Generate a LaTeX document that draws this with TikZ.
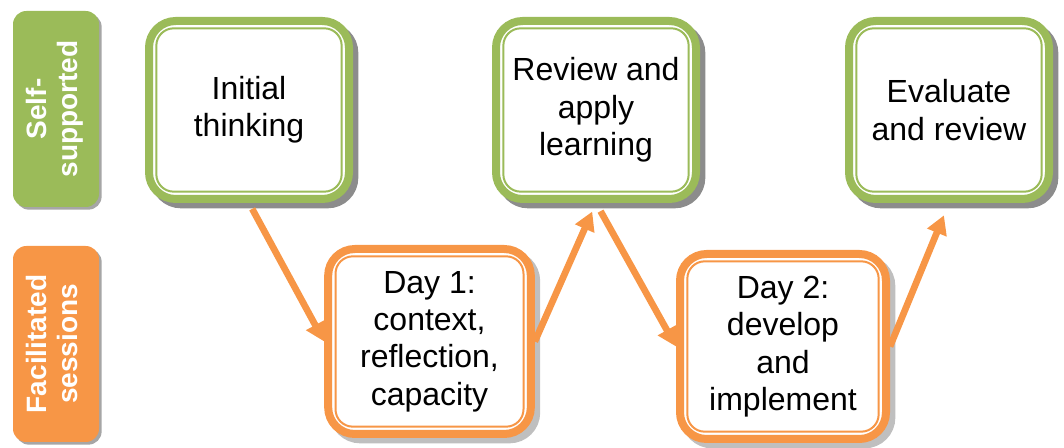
\documentclass[tikz,border=0pt]{standalone}
\usepackage{fontspec}
\setmainfont{Liberation Sans}
\usetikzlibrary{arrows.meta,shadows}
\definecolor{leafgreen}{HTML}{9BBB59}
\definecolor{sessionorange}{HTML}{F79646}

\begin{document}
\begin{tikzpicture}[x=0.75pt,y=-0.75pt,
    sidebox/.style={rounded corners=10pt, minimum width=64.5pt, minimum height=147pt,
        inner sep=0pt, text=white, font=\bfseries\fontsize{21}{23}\selectfont,
        drop shadow={shadow xshift=2pt, shadow yshift=-2pt, fill=black!35, opacity=1}},
    stagebox/.style={line width=6pt, fill=white, rounded corners=20pt, align=center,
        font=\fontsize{24}{28}\selectfont},
    selfbox/.style={stagebox, draw=leafgreen, minimum width=150pt, minimum height=133.5pt,
        drop shadow={shadow xshift=4pt, shadow yshift=-4pt, fill=black!45, draw=black!45,
        line width=6pt, opacity=1}},
    dayboxstyle/.style={stagebox, draw=sessionorange, minimum height=138.75pt,
        drop shadow={shadow xshift=4pt, shadow yshift=-4pt, fill=black!25, draw=black!25,
        line width=6pt, opacity=1}},
    innerline/.style={line width=1.5pt, rounded corners=13pt},
    flow/.style={sessionorange, line width=5pt, -{Triangle[length=14pt,width=15pt]}}]

\useasboundingbox (0,0) rectangle (1064,448);

% row labels
\node (selfsup) [sidebox, fill=leafgreen] at (56,109)
    {\rotatebox{90}{\begin{tabular}{@{}c@{}}Self-\\supported\end{tabular}}};
\node (facil) [sidebox, fill=sessionorange] at (56,344)
    {\rotatebox{90}{\begin{tabular}{@{}c@{}}Facilitated\\sessions\end{tabular}}};

% self-supported stages
\node (init) [selfbox] at (249,110) {Initial\\thinking};
\node (review) [selfbox] at (596,110) {Review and\\apply\\learning};
\node (evalrev) [selfbox] at (949,110) {Evaluate\\and review};

% facilitated sessions
\node (day1) [dayboxstyle, minimum width=152pt] at (429.5,341.5) {Day 1:\\context,\\reflection,\\capacity};
\node (day2) [dayboxstyle, minimum width=154.5pt] at (783,346.5) {Day 2:\\develop\\and\\implement};

% inner lines
\foreach \n in {init,review,evalrev}
    \draw [innerline, leafgreen] ([shift={(8.5pt,-8.5pt)}]\n.north west) rectangle ([shift={(-8.5pt,8.5pt)}]\n.south east);
\foreach \n in {day1,day2}
    \draw [innerline, sessionorange] ([shift={(8.5pt,-8.5pt)}]\n.north west) rectangle ([shift={(-8.5pt,8.5pt)}]\n.south east);

% arrows
\draw [flow, shorten <=5pt] (init.south) -- (day1.west);
\draw [flow, shorten >=7pt] (day1.east) -- (review.south);
\draw [flow, shorten <=7pt] (review.south) -- (day2.west);
\draw [flow, shorten >=10pt] (day2.east) -- (evalrev.south);
\end{tikzpicture}
\end{document}
